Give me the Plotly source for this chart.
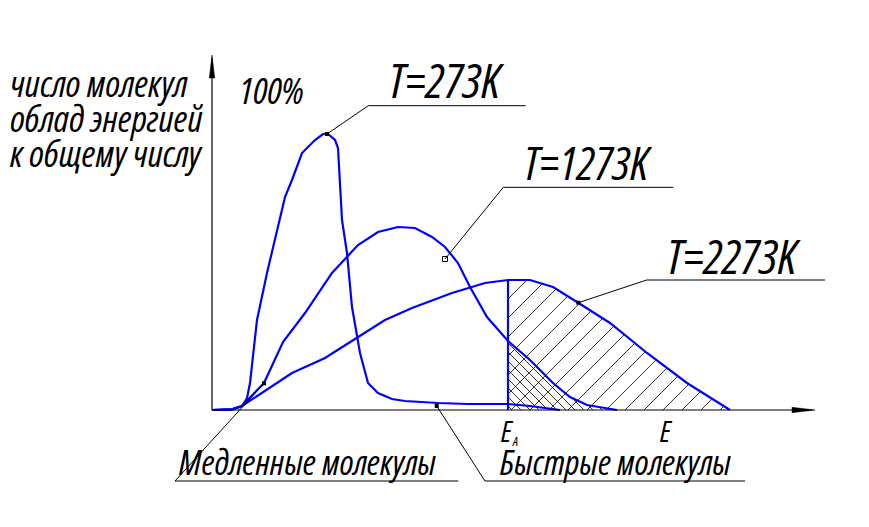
import numpy as np
import plotly.graph_objects as go

# ---------------- data (energy units, relative number of molecules) ----------------
E_273 = [0, 20, 30, 35, 38, 41, 45, 55, 65, 73, 80, 90, 103, 111, 116, 123, 126, 128, 130, 135,
         140, 148, 156, 166, 180, 193, 226, 256, 296, 318, 341, 348]
N_273 = [0, 0.7, 4, 12, 27, 57, 90, 137, 180, 213, 230, 257, 270, 276, 276, 270, 262, 230, 190, 157,
         103, 57, 27, 17, 11, 9, 7, 6, 6, 4, 1, 0]

E_1273 = [0, 20, 30, 42, 52, 71, 93, 120, 146, 166, 186, 203, 220, 233, 246, 258, 275, 296, 318,
          341, 358, 375, 401, 405]
N_1273 = [0, 0.7, 4, 17, 27, 68, 97, 137, 165, 178, 183, 182, 173, 163, 147, 123, 93, 69, 50,
          27, 13, 5, 1, 0]

E_2273 = [0, 20, 30, 50, 80, 113, 146, 173, 200, 240, 273, 296, 318, 341, 365, 398, 435, 475, 518]
N_2273 = [0, 0.7, 4, 17, 37, 52, 73, 90, 102, 117, 127, 130, 130, 123, 108, 87, 57, 27, 0]

E_A = 296
curve_labels = ["T=273K", "T=1273K", "T=2273K"]
y_label_lines = ["число молекул", "облад энергией", "к общему числу"]
slow_label = "Медленные молекулы"
fast_label = "Быстрые молекулы"

# ---------------- styles ----------------
BLUE = "#0000FF"
FONT = "Open Sans, Liberation Sans, sans-serif"

fig = go.Figure()

xs = np.arange(E_A, 700, 0.1)
f_hot = np.interp(xs, E_2273, N_2273, right=0)
f_mid = np.interp(xs, E_1273, N_1273, right=0)


def hatch(f, slope, offsets):
    X, Y = [], []
    for c in offsets:
        yl = slope * (xs - c)
        m = (yl >= 0) & (yl <= f)
        if m.any():
            idx = np.where(m)[0]
            x0, x1 = xs[idx[0]], xs[idx[-1]]
            X += [x0, x1, None]
            Y += [slope * (x0 - c), slope * (x1 - c), None]
    return X, Y


hx1, hy1 = hatch(f_hot, 1, np.arange(185, 520, 19))
hx2, hy2 = hatch(f_mid, -1, np.arange(300, 410, 9))
fig.add_trace(go.Scatter(x=hx1 + hx2, y=hy1 + hy2, mode="lines",
                         line=dict(color="black", width=0.8), hoverinfo="skip"))

for E, N in [(E_273, N_273), (E_1273, N_1273), (E_2273, N_2273)]:
    fig.add_trace(go.Scatter(x=E, y=N, mode="lines", line=dict(color=BLUE, width=2.2),
                             hoverinfo="skip"))

fig.add_trace(go.Scatter(x=[E_A, E_A], y=[0, float(np.interp(E_A, E_2273, N_2273))], mode="lines",
                         line=dict(color=BLUE, width=2.2), hoverinfo="skip"))

shapes = []
def seg(x0, y0, x1, y1, w=1.0):
    shapes.append(dict(type="line", x0=x0, y0=y0, x1=x1, y1=y1,
                       line=dict(color="black", width=w)))

seg(0, 0, 600, 0, 1.2)
seg(0, 0, 0, 352, 1.2)
shapes.append(dict(type="path", path="M 580,-2.7 L 603,0 L 580,2.7 Z",
                   fillcolor="black", line=dict(color="black", width=0.5)))
shapes.append(dict(type="path", path="M -2.7,332 L 0,355 L 2.7,332 Z",
                   fillcolor="black", line=dict(color="black", width=0.5)))

seg(115, 276, 156.3, 304.3); seg(156.3, 304.3, 313.7, 304.3)
seg(233, 151, 291.3, 222.7); seg(291.3, 222.7, 461.3, 222.7)
seg(366.3, 107.3, 434.7, 130); seg(434.7, 130, 613, 130)
seg(52, 26.7, -37, -71); seg(-37, -71, 246.3, -71)
seg(224.7, 4, 273, -71); seg(273, -71, 533, -71)

fig.add_trace(go.Scatter(x=[115, 366.3, 52, 224.7], y=[276, 107.3, 26.7, 4], mode="markers",
                         marker=dict(color="black", size=4, symbol="square"), hoverinfo="skip"))
fig.add_trace(go.Scatter(x=[233], y=[151], mode="markers",
                         marker=dict(color="black", size=5, symbol="square-open"), hoverinfo="skip"))

ann = []
def txt(x, y, t, s, stretch="condensed"):
    ann.append(dict(x=x, y=y, text="<span style='font-stretch:%s'>%s</span>" % (stretch, t),
                    showarrow=False, xanchor="left", yanchor="middle",
                    font=dict(family=FONT, size=s, color="black", style="italic")))

txt(174.7, 330.7, curve_labels[0], 48)
txt(309.7, 248, curve_labels[1], 46)
txt(453, 154.5, curve_labels[2], 48)
txt(24.7, 321, "100%", 37)
for i, line in enumerate(y_label_lines):
    txt(-204, 327.7 - 35 * i, line, 37)
txt(-35, -51.7, slow_label, 35)
txt(286, -51.7, fast_label, 35)
txt(287, -20.6, "E", 30)
txt(298, -30.5, "A", 13)
txt(446, -20.6, "E", 30)

fig.update_layout(
    width=869, height=527, margin=dict(l=0, r=0, t=0, b=0),
    paper_bgcolor="white", plot_bgcolor="white", showlegend=False,
    xaxis=dict(range=[-212, 657], visible=False, fixedrange=True),
    yaxis=dict(range=[-117, 410], visible=False, fixedrange=True),
    shapes=shapes, annotations=ann,
)

fig.write_html("out.html", config={"displayModeBar": False},
               post_script="document.body.style.margin='0';document.body.style.overflow='hidden';")
